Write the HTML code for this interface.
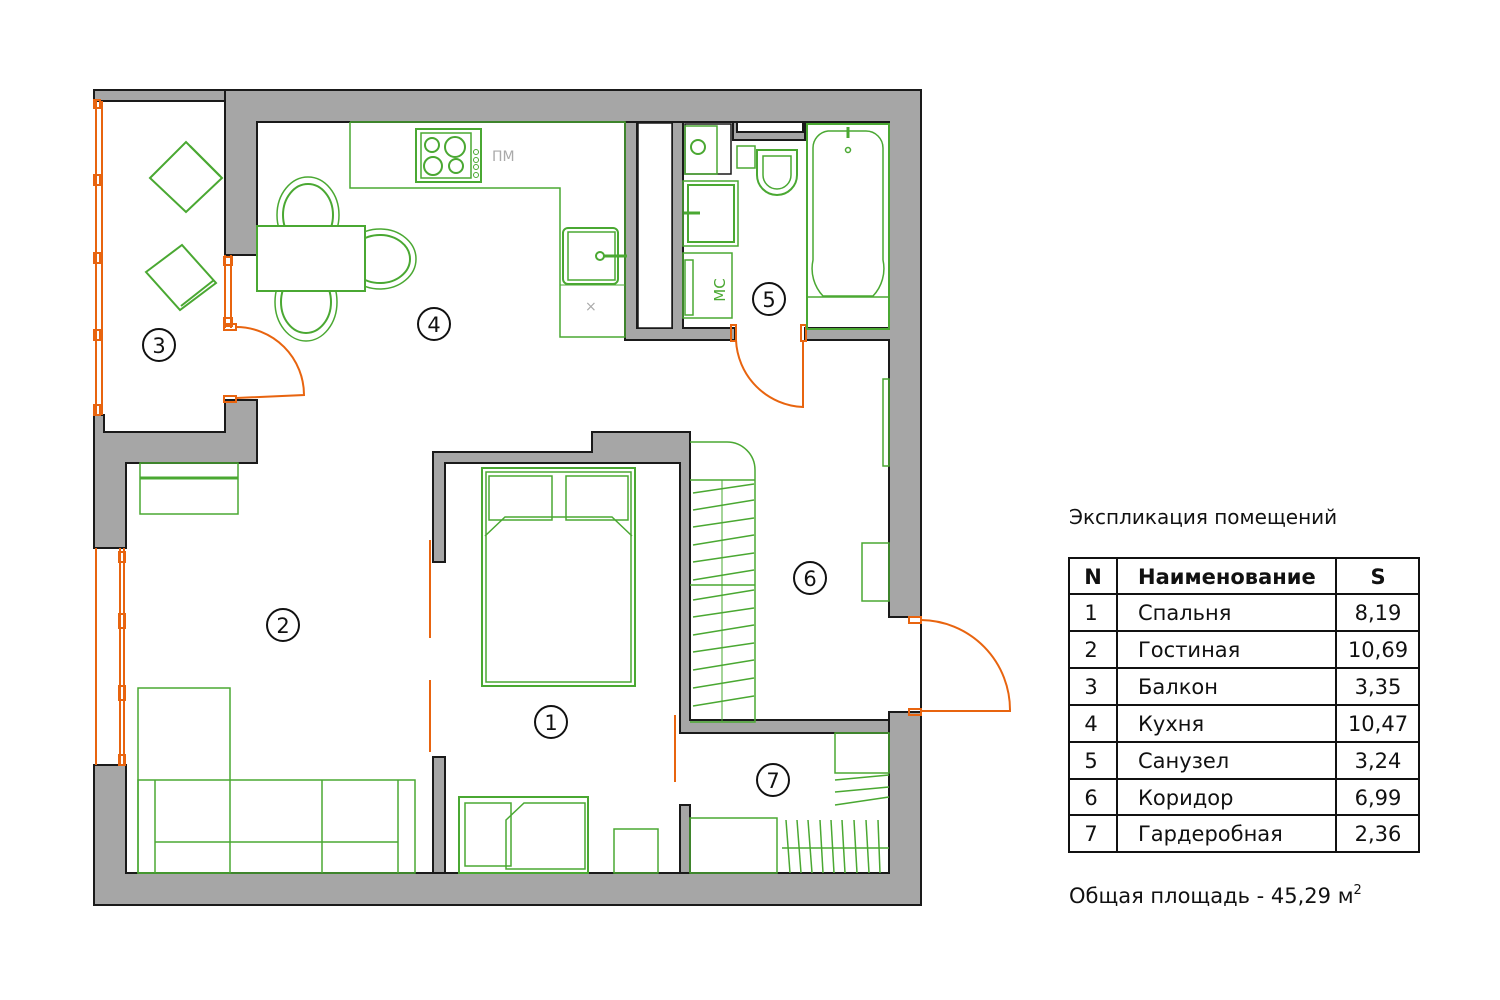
<!DOCTYPE html>
<html><head><meta charset="utf-8"><style>
html,body{margin:0;padding:0;background:#fff;}
svg{display:block}
</style></head><body>
<svg width="1500" height="1000" viewBox="0 0 1500 1000" xmlns="http://www.w3.org/2000/svg" font-family="DejaVu Sans, Liberation Sans, sans-serif">
<g fill="#a6a6a6" stroke="#1a1a1a" stroke-width="2">
<polygon points="225,90 921,90 921,905 94,905 94,765 126,765 126,873 889,873 889,712 921,712 921,617 889,617 889,340 805,340 805,328 889,328 889,122 257,122 257,255 225,255"/>
<rect x="94" y="90" width="131" height="11"/>
<polygon points="225,400 257,400 257,463 126,463 126,548 94,548 94,415 104,415 104,432 225,432"/>
<polygon points="625,122 637,122 637,328 672,328 672,122 683,122 683,328 735,328 735,340 625,340"/>
<polygon points="733,122 805,122 805,140 733,140"/>
<polygon points="433,452 592,452 592,432 690,432 690,720 889,720 889,733 690,733 680,733 680,463 445,463 445,562 433,562"/>
<rect x="433" y="757" width="12" height="116"/>
<rect x="680" y="805" width="10" height="68"/>
</g>
<rect x="638" y="123" width="34" height="205" fill="#fff" stroke="#1a1a1a" stroke-width="1.5"/>
<rect x="737" y="122" width="66" height="10" fill="#fff" stroke="#1a1a1a" stroke-width="2"/>
<rect x="685" y="124" width="46" height="50" fill="#fff" stroke="#1a1a1a" stroke-width="1.5"/>

<g fill="none" stroke="#e8640f" stroke-width="2">
<line x1="96" y1="101" x2="96" y2="415"/><line x1="102" y1="101" x2="102" y2="415"/>
<rect x="94" y="175" width="6" height="10"/><rect x="94" y="253" width="6" height="10"/><rect x="94" y="330" width="6" height="10"/><rect x="94" y="405" width="6" height="10"/><rect x="94" y="100" width="6" height="8"/>
<line x1="225" y1="255" x2="225" y2="328"/><line x1="231" y1="255" x2="231" y2="328"/>
<rect x="224" y="257" width="8" height="8"/><rect x="224" y="318" width="8" height="8"/>
<rect x="224" y="324" width="12" height="6"/><rect x="224" y="396" width="12" height="6"/>
<path d="M236,327 A68,68 0 0 1 304,395 L236,398"/>
<line x1="96" y1="548" x2="96" y2="765"/><line x1="124" y1="548" x2="124" y2="765"/><line x1="120" y1="548" x2="120" y2="765"/>
<rect x="119" y="552" width="6" height="10"/><rect x="119" y="614" width="6" height="14"/><rect x="119" y="686" width="6" height="14"/><rect x="119" y="755" width="6" height="10"/>
<rect x="731" y="325" width="5" height="16"/><rect x="801" y="325" width="5" height="16"/>
<path d="M736,340 A70,70 0 0 0 803,407 L803,340"/>
<rect x="909" y="617" width="12" height="6"/><rect x="909" y="709" width="12" height="6"/>
<path d="M921,620 A90,90 0 0 1 1010,711 L921,711"/>
<line x1="430" y1="540" x2="430" y2="638"/><line x1="430" y1="680" x2="430" y2="752"/>
<line x1="675" y1="715" x2="675" y2="782"/>
</g>

<g fill="none" stroke="#4aa832" stroke-width="2">
<polygon points="150,178 186,142 222,178 186,212"/><line x1="190" y1="146" x2="220" y2="176"/>
<polygon points="146,272 182,245 216,283 180,310"/><line x1="181" y1="306" x2="214" y2="280"/>
<polyline points="350,122 350,188 560,188 560,337 625,337 625,122 350,122" stroke-width="1.5"/>
<rect x="416" y="129" width="65" height="53"/><rect x="421" y="133" width="50" height="45" stroke-width="1.5"/>
<circle cx="432" cy="145" r="7"/><circle cx="455" cy="147" r="10"/><circle cx="433" cy="166" r="9"/><circle cx="456" cy="166" r="7"/>
<circle cx="476" cy="152" r="2.5" stroke-width="1"/><circle cx="476" cy="160" r="2.5" stroke-width="1"/><circle cx="476" cy="167" r="2.5" stroke-width="1"/><circle cx="476" cy="175" r="2.5" stroke-width="1"/>
<rect x="563" y="228" width="55" height="56" rx="5"/><rect x="568" y="232" width="47" height="48" stroke-width="1.5"/>
<circle cx="600" cy="256" r="4"/><line x1="604" y1="256" x2="627" y2="256" stroke-width="3"/>
<line x1="560" y1="285" x2="625" y2="285" stroke-width="1"/>
<!-- chairs -->
<ellipse cx="308" cy="215" rx="25" ry="31"/>
<ellipse cx="308" cy="215" rx="31" ry="38" stroke-width="1.5"/>
<ellipse cx="306" cy="302" rx="25" ry="31"/>
<ellipse cx="306" cy="302" rx="31" ry="39" stroke-width="1.5"/>
<ellipse cx="380" cy="259" rx="30" ry="24"/>
<ellipse cx="380" cy="259" rx="36" ry="30" stroke-width="1.5"/>
<rect x="257" y="226" width="108" height="65" fill="#fff"/>
<!-- bathroom -->
<rect x="685" y="126" width="32" height="48" stroke-width="1.5"/><circle cx="698" cy="147" r="7"/>
<rect x="737" y="146" width="18" height="22" stroke-width="1.5"/>
<path d="M757,150 L797,150 L797,175 A20,20 0 0 1 757,175 Z"/><path d="M763,156 L791,156 L791,175 A14,14 0 0 1 763,175 Z" stroke-width="1.5"/>
<rect x="683" y="181" width="55" height="65" stroke-width="1.5"/><rect x="688" y="185" width="46" height="57"/>
<line x1="684" y1="213" x2="700" y2="213" stroke-width="3"/>
<rect x="683" y="253" width="49" height="65" stroke-width="1.5"/><rect x="685" y="260" width="8" height="55" stroke-width="1.5"/>
<rect x="807" y="124" width="82" height="205"/>
<path d="M828,131 L866,131 A17,17 0 0 1 883,148 L883,260 A40,40 0 0 1 873,296 L823,296 A40,40 0 0 1 813,260 L813,148 A17,17 0 0 1 828,131 Z" stroke-width="1.5"/>
<line x1="807" y1="297" x2="889" y2="297" stroke-width="1.5"/>
<circle cx="848" cy="150" r="2.5" stroke-width="1.5"/><line x1="848" y1="127" x2="848" y2="138" stroke-width="3"/>
<rect x="883" y="379" width="6" height="87" stroke-width="1.5"/>
<rect x="862" y="543" width="27" height="58" stroke-width="1.5"/>
<path d="M690,442 L727,442 A28,28 0 0 1 755,470 L755,722 L690,722" stroke-width="1.5"/>
<line x1="690" y1="480" x2="755" y2="480" stroke-width="1.5"/>
<line x1="690" y1="585" x2="755" y2="585" stroke-width="1.5"/>
<line x1="722" y1="480" x2="722" y2="722" stroke-width="1"/>
<g stroke-width="1.5">
<line x1="693" y1="493" x2="754" y2="484"/><line x1="693" y1="510" x2="754" y2="500"/><line x1="693" y1="527" x2="754" y2="518"/><line x1="693" y1="545" x2="754" y2="535"/><line x1="693" y1="562" x2="754" y2="553"/><line x1="693" y1="580" x2="754" y2="570"/><line x1="693" y1="600" x2="754" y2="590"/><line x1="693" y1="617" x2="754" y2="608"/><line x1="693" y1="635" x2="754" y2="625"/><line x1="693" y1="652" x2="754" y2="643"/><line x1="693" y1="670" x2="754" y2="660"/><line x1="693" y1="688" x2="754" y2="678"/><line x1="693" y1="706" x2="754" y2="696"/>
</g>
<rect x="835" y="733" width="54" height="40" stroke-width="1.5"/>
<line x1="835" y1="780" x2="889" y2="775" stroke-width="1.5"/><line x1="835" y1="792" x2="889" y2="787" stroke-width="1.5"/><line x1="835" y1="805" x2="889" y2="797" stroke-width="1.5"/>
<rect x="690" y="818" width="87" height="55" stroke-width="1.5"/>
<line x1="782" y1="848" x2="889" y2="848" stroke-width="1.5"/>
<g stroke-width="1.5"><line x1="786" y1="820" x2="790" y2="873"/><line x1="797" y1="820" x2="801" y2="873"/><line x1="808" y1="820" x2="812" y2="873"/><line x1="820" y1="820" x2="823" y2="873"/><line x1="831" y1="820" x2="834" y2="873"/><line x1="842" y1="820" x2="845" y2="873"/><line x1="854" y1="820" x2="857" y2="873"/><line x1="866" y1="820" x2="869" y2="873"/><line x1="878" y1="820" x2="880" y2="873"/></g>
<rect x="482" y="468" width="153" height="218"/><rect x="486" y="472" width="145" height="210" stroke-width="1.5"/>
<rect x="489" y="476" width="63" height="44" stroke-width="1.5"/><rect x="566" y="476" width="62" height="44" stroke-width="1.5"/>
<polyline points="485,536 505,517 612,517 632,536" stroke-width="1.5"/>
<rect x="459" y="797" width="129" height="76"/>
<rect x="465" y="803" width="46" height="63" stroke-width="1.5"/><path d="M506,820 L524,803 L585,803 L585,869 L506,869 Z" stroke-width="1.5"/>
<rect x="614" y="829" width="44" height="44" stroke-width="1.5"/>
<rect x="140" y="463" width="98" height="51" stroke-width="1.5"/>
<line x1="140" y1="478" x2="238" y2="478" stroke-width="3"/>
<rect x="138" y="688" width="92" height="185" stroke-width="1.5"/>
<rect x="138" y="780" width="277" height="93" stroke-width="1.5"/>
<line x1="155" y1="780" x2="155" y2="873" stroke-width="1.5"/><line x1="322" y1="780" x2="322" y2="873" stroke-width="1.5"/><line x1="398" y1="780" x2="398" y2="873" stroke-width="1.5"/>
<line x1="155" y1="842" x2="398" y2="842" stroke-width="1.5"/>
</g>
<g font-size="14" fill="#aaa"><text x="492" y="161">ПМ</text><text x="585" y="311">×</text></g>
<text x="715" y="300" font-size="15" fill="#4aa832" transform="rotate(-90 715 290)" text-anchor="middle">МС</text>

<g fill="#fff" stroke="#111" stroke-width="2">
<circle cx="159" cy="345" r="16"/><circle cx="434" cy="324" r="16"/><circle cx="769" cy="299" r="16"/><circle cx="810" cy="578" r="16"/><circle cx="283" cy="625" r="16"/><circle cx="551" cy="722" r="16"/><circle cx="773" cy="780" r="16"/>
</g>
<g font-size="21" fill="#111" text-anchor="middle">
<text x="159" y="353">3</text><text x="434" y="332">4</text><text x="769" y="307">5</text><text x="810" y="586">6</text><text x="283" y="633">2</text><text x="551" y="730">1</text><text x="773" y="788">7</text>
</g>

<g font-family="DejaVu Sans, sans-serif" fill="#111">
<text x="1069" y="524" font-size="20">Экспликация помещений</text>
<g fill="none" stroke="#111" stroke-width="2">
<rect x="1069" y="558" width="350" height="294"/>
<line x1="1117" y1="558" x2="1117" y2="852"/><line x1="1336" y1="558" x2="1336" y2="852"/>
<line x1="1069" y1="594" x2="1419" y2="594"/><line x1="1069" y1="631" x2="1419" y2="631"/><line x1="1069" y1="668" x2="1419" y2="668"/><line x1="1069" y1="705" x2="1419" y2="705"/><line x1="1069" y1="742" x2="1419" y2="742"/><line x1="1069" y1="779" x2="1419" y2="779"/><line x1="1069" y1="815" x2="1419" y2="815"/>
</g>
<g font-size="21" font-weight="bold"><text x="1093" y="584" text-anchor="middle">N</text><text x="1138" y="584">Наименование</text><text x="1378" y="584" text-anchor="middle">S</text></g>
<g font-size="21">
<text x="1091" y="620" text-anchor="middle">1</text><text x="1138" y="620">Спальня</text><text x="1378" y="620" text-anchor="middle">8,19</text>
<text x="1091" y="657" text-anchor="middle">2</text><text x="1138" y="657">Гостиная</text><text x="1378" y="657" text-anchor="middle">10,69</text>
<text x="1091" y="694" text-anchor="middle">3</text><text x="1138" y="694">Балкон</text><text x="1378" y="694" text-anchor="middle">3,35</text>
<text x="1091" y="731" text-anchor="middle">4</text><text x="1138" y="731">Кухня</text><text x="1378" y="731" text-anchor="middle">10,47</text>
<text x="1091" y="768" text-anchor="middle">5</text><text x="1138" y="768">Санузел</text><text x="1378" y="768" text-anchor="middle">3,24</text>
<text x="1091" y="805" text-anchor="middle">6</text><text x="1138" y="805">Коридор</text><text x="1378" y="805" text-anchor="middle">6,99</text>
<text x="1091" y="841" text-anchor="middle">7</text><text x="1138" y="841">Гардеробная</text><text x="1378" y="841" text-anchor="middle">2,36</text>
</g>
<text x="1069" y="903" font-size="21">Общая площадь - 45,29 м<tspan font-size="13" dy="-9">2</tspan></text>
</g>
</svg>
</body></html>
